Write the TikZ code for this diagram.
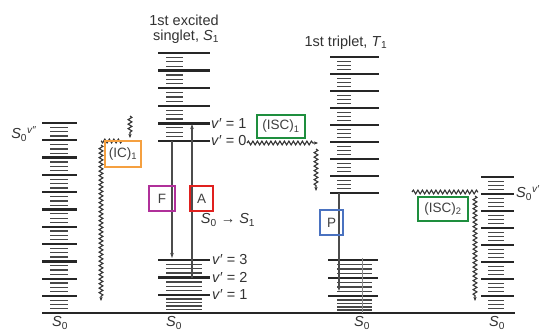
\documentclass[tikz,border=0pt]{standalone}
\usepackage{fontspec}
\setmainfont{Liberation Sans}
\usetikzlibrary{decorations.pathmorphing,arrows.meta}
\definecolor{icorange}{HTML}{F5A040}
\definecolor{fpurple}{HTML}{B0309A}
\definecolor{ared}{HTML}{E0201E}
\definecolor{iscgreen}{HTML}{1E8E3E}
\definecolor{pblue}{HTML}{4A72C0}
\newcommand\mystack[8]{%
  \foreach \i in {0,...,#7}{\draw[lvl] (#1,{#5+\i*#6}) -- (#2,{#5+\i*#6});}
  \foreach \i in {1,...,#7}{\foreach \k in {1,...,#8}{%
    \draw[sublvl] (#3,{#5+(\i-1)*#6+\k*#6/(#8+1)}) -- (#4,{#5+(\i-1)*#6+\k*#6/(#8+1)});}}%
}
\begin{document}
\begin{tikzpicture}[x=1pt,y=-1pt,
  lvl/.style={line width=2.3pt, black!85},
  sublvl/.style={line width=1.3pt, black!72},
  trans/.style={line width=1.2pt, black!70, -{Stealth[length=5pt,width=3.5pt]}},
  wavy/.style={line width=1.1pt, black!80, decorate,
    decoration={snake, amplitude=1.9pt, segment length=4.5pt, post length=4pt}},
  wavyarr/.style={wavy, -{Stealth[length=4pt,width=3.2pt]}},
  lab/.style={text=black!80, font=\fontsize{14.5}{16}\selectfont, inner sep=0pt},
  boxlab/.style={draw, line width=1.9pt, text=black!75, font=\fontsize{13.5}{15}\selectfont, inner sep=0pt},
]
\useasboundingbox (0,0) rectangle (540,331);
\fill[white] (0,0) rectangle (540,331);

% ground line
\draw[line width=2.5pt, black!85] (42,313) -- (515,313);

% left stack S0 v''
\mystack{42}{77}{50}{68}{123}{17.3}{10}{3}
\foreach \y in {300.5,304.5,308.5}{\draw[sublvl] (50,\y) -- (68,\y);}

% S1 stack
\mystack{158}{210}{166}{183}{53}{17.6}{5}{3}
% S0 stack under S1
\mystack{158}{210}{166}{202}{260}{17.5}{2}{3}
\foreach \y in {299,302.5,306,309.5}{\draw[sublvl] (166,\y) -- (202,\y);}

% T1 stack
\mystack{330}{379}{337}{351}{57}{17}{8}{3}
% S0 stack under T1
\mystack{328}{378}{337}{372}{260}{18}{2}{3}
\foreach \y in {300,303.5,307,310}{\draw[sublvl] (337,\y) -- (372,\y);}
\draw[line width=0.6pt, black!45] (362,258) -- (362,313);

% right stack S0 v'
\mystack{481}{514}{488}{504}{177}{17}{7}{3}
\foreach \y in {300.5,304.5,308.5}{\draw[sublvl] (488,\y) -- (504,\y);}

% coordinates for transitions
\coordinate (Ftop) at (172,141);
\coordinate (Fbot) at (172,258);
\coordinate (Abot) at (192,277.5);
\coordinate (Atop) at (192,124);
\coordinate (Ptop) at (339,193);
\coordinate (Pbot) at (339,291);
\coordinate (ICa) at (130,116);
\coordinate (ICb) at (130,138);
\coordinate (ICc) at (122,141);
\coordinate (ICd) at (101,141);
\coordinate (ICe) at (101,145);
\coordinate (ICf) at (101,301);
\coordinate (ISa) at (247,143);
\coordinate (ISb) at (318,143);
\coordinate (ISc) at (316,149);
\coordinate (ISd) at (316,191);
\coordinate (IZa) at (412,192);
\coordinate (IZb) at (478,192);
\coordinate (IZc) at (475,196);
\coordinate (IZd) at (475,301);

% radiative transitions
\draw[trans] (Ftop) -- (Fbot);
\draw[trans] (Abot) -- (Atop);
\draw[trans] (Ptop) -- (Pbot);

% non-radiative transitions
\draw[wavyarr] (ICa) -- (ICb);
\draw[wavy, decoration={post length=0pt}] (ICc) -- (ICd);
\draw[wavyarr] (ICe) -- (ICf);
\draw[wavyarr] (ISa) -- (ISb);
\draw[wavyarr] (ISc) -- (ISd);
\draw[wavy, decoration={post length=0pt}] (IZa) -- (IZb);
\draw[wavyarr] (IZc) -- (IZd);

% boxes
\node[boxlab, draw=icorange, minimum width=36pt, minimum height=26pt] (ic1) at (123,154) {(IC)\textsubscript{1}};
\node[boxlab, draw=fpurple, minimum width=26pt, minimum height=25pt] (fbox) at (162,198.5) {F};
\node[boxlab, draw=ared, minimum width=23pt, minimum height=25pt] (abox) at (201.5,198.5) {A};
\node[boxlab, draw=iscgreen, minimum width=48pt, minimum height=23pt] (isc1) at (281,126.5) {(ISC)\textsubscript{1}};
\node[boxlab, draw=pblue, minimum width=23pt, minimum height=25pt] (pbox) at (331.5,222.5) {P};
\node[boxlab, draw=iscgreen, minimum width=50pt, minimum height=24pt] (isc2) at (443,209) {(ISC)\textsubscript{2}};

% labels
\node[lab] (t1) at (184,20) {1st excited};
\node[lab] (t2) at (186,37) {singlet, \textit{S}\textsubscript{1}};
\node[lab] (t3) at (346,43) {1st triplet, \textit{T}\textsubscript{1}};
\node[lab, anchor=west] (v1) at (211,124) {\textit{v}′ = 1};
\node[lab, anchor=west] (v0) at (211,141) {\textit{v}′ = 0};
\node[lab, anchor=west] (v3) at (212,260) {\textit{v}′ = 3};
\node[lab, anchor=west] (v2) at (212,277.5) {\textit{v}′ = 2};
\node[lab, anchor=west] (vv1) at (212,295) {\textit{v}′ = 1};
\node[lab] (abs) at (228,220) {\textit{S}\textsubscript{0} → \textit{S}\textsubscript{1}};
\node[lab] (s0l) at (24,134) {\textit{S}\textsubscript{0}\textsuperscript{\textit{v}″}};
\node[lab, anchor=west] (s0r) at (516,193) {\textit{S}\textsubscript{0}\textsuperscript{\textit{v}′}};
\node[lab] (g1) at (60,323) {\textit{S}\textsubscript{0}};
\node[lab] (g2) at (174,323) {\textit{S}\textsubscript{0}};
\node[lab] (g3) at (362,323) {\textit{S}\textsubscript{0}};
\node[lab] (g4) at (497,323) {\textit{S}\textsubscript{0}};
\end{tikzpicture}
\end{document}
